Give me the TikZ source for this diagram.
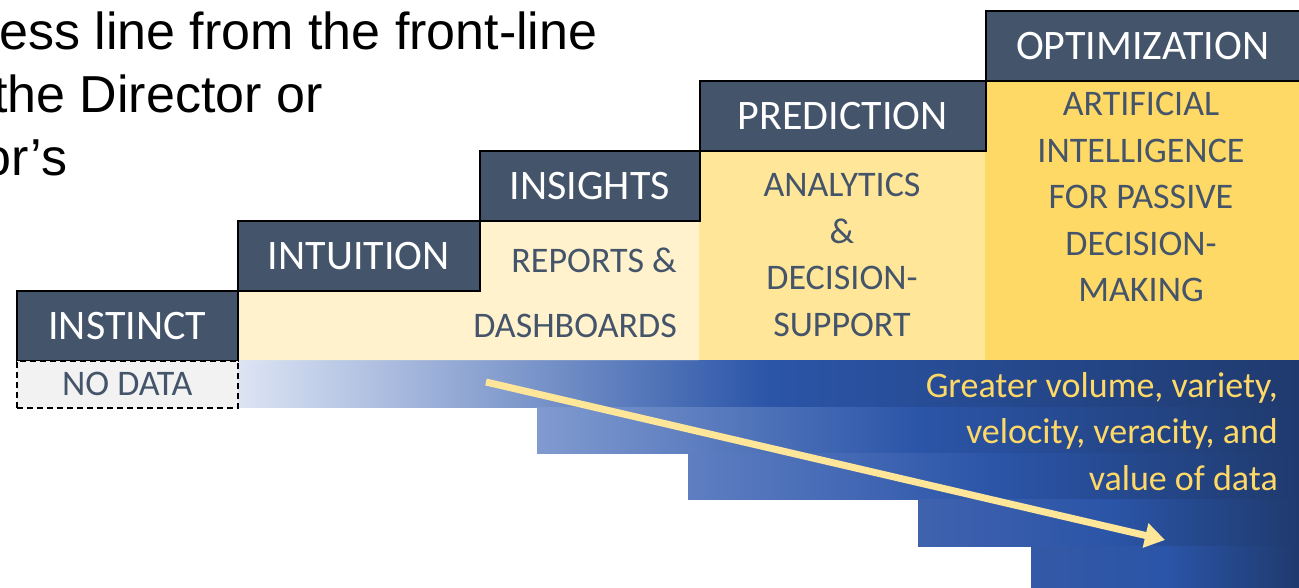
\documentclass[tikz,border=0pt]{standalone}
\usepackage{fontspec}
\setmainfont{Carlito}
\newfontfamily\arialfont{Liberation Sans}
\usetikzlibrary{arrows.meta}
\definecolor{slate}{HTML}{44546A}
\definecolor{cream}{HTML}{FFF2CC}
\definecolor{wheat}{HTML}{FFE699}
\definecolor{gold}{HTML}{FFD966}
\definecolor{royal}{HTML}{2B55A8}
\definecolor{navy}{HTML}{1F3A6E}
\definecolor{nodatagray}{HTML}{F2F2F2}
\begin{document}
\begin{tikzpicture}[x=1pt, y=-1pt,
  stage/.style={draw=black, line width=1.5pt, fill=slate, text=white, inner sep=0pt, font=\fontsize{42}{50}\selectfont},
  body/.style={text=slate, inner sep=0pt, align=center, font=\fontsize{36}{46.5}\selectfont}]
\useasboundingbox (0,0) rectangle (1299,587);

\node[anchor=north west, align=left, inner sep=0pt, font=\arialfont\fontsize{52}{63}\selectfont] (note) at (-1,12)
  {ess line from the front-line\\\hspace*{-6pt}the Director or\\\hspace*{-17pt}or’s};

\foreach \x/\y/\yy/\c in {237/360/407/DDE5F4, 537/407/453/819BD0, 688/453/499/5F7EC2, 918/499/546/4062AE, 1031/546/587/3459A6}
{
\definecolor{bandleft}{HTML}{\c}
\shade[left color=bandleft, right color=navy, middle color=royal] (\x, \y) rectangle (1299, \yy);
}

\fill[cream] (237, 290) -| (479, 220) -| (699, 360) -| cycle;
\fill[wheat] (699, 150) rectangle (985, 360);
\fill[gold] (985, 80) rectangle (1299, 360);

\foreach \name/\xa/\xb/\ya/\txt in {instinct/16/237/290/INSTINCT, intuition/237/479/220/INTUITION, insights/479/699/150/INSIGHTS, prediction/699/985/80/PREDICTION, optimization/985/1299/10/OPTIMIZATION}
{
\pgfmathsetmacro\w{\xb-\xa}
\node[stage, anchor=north west, minimum width=\w pt, minimum height=70pt] (\name) at (\xa, \ya) {\txt};
}

\node[draw=black, dashed, dash pattern=on 6pt off 4pt, line width=1.5pt, fill=nodatagray, text=slate, inner sep=0pt,
  minimum width=221pt, minimum height=47pt, anchor=north west, font=\fontsize{36}{40}\selectfont] (nodata) at (16, 360) {NO DATA};

\node[body, anchor=north east, align=right, font=\fontsize{36}{65}\selectfont] (reports) at (677, 248) {REPORTS \&\\DASHBOARDS};
\node[body, anchor=north] (analytics) at (842, 173) {ANALYTICS\\\&\\DECISION-\\SUPPORT};
\node[body, anchor=north] (ai) at (1141, 92) {ARTIFICIAL\\INTELLIGENCE\\FOR PASSIVE\\DECISION-\\MAKING};

\node[body, anchor=north east, align=right, text=gold] (volume) at (1278, 372) {Greater volume, variety,\\velocity, veracity, and\\value of data};

\coordinate (flowstart) at (486, 382);
\coordinate (flowend) at (1165, 540);
\draw[wheat, line width=7pt, -{Triangle[length=20pt, width=24pt]}] (flowstart) -- (flowend);
\end{tikzpicture}
\end{document}
